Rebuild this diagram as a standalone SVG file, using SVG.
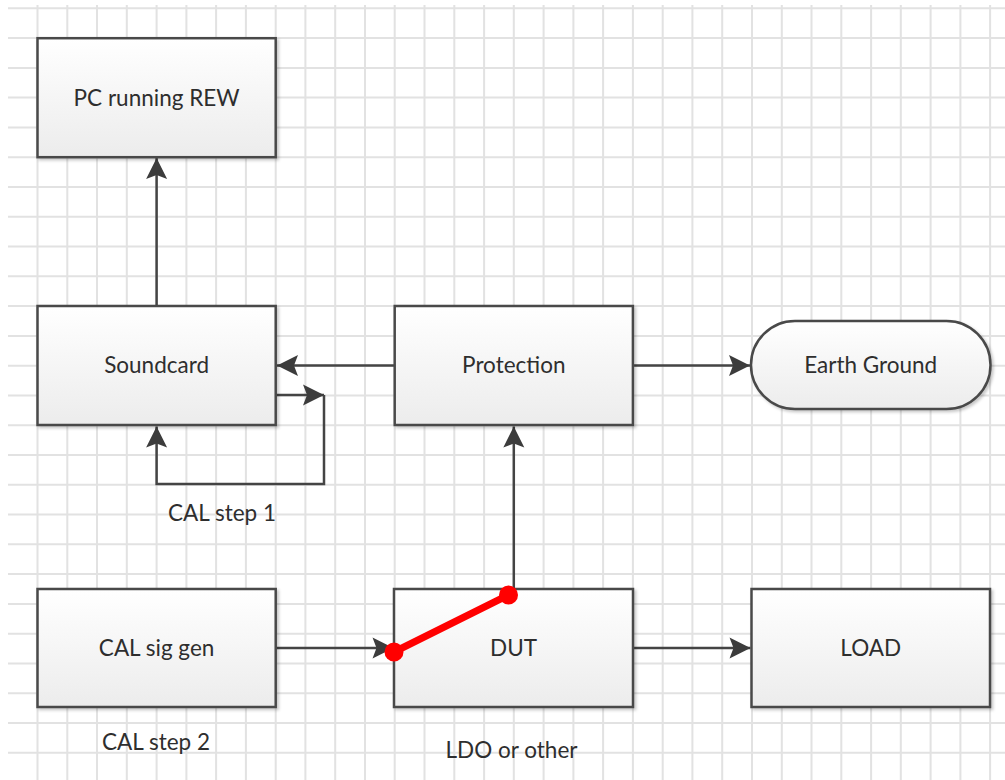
<svg xmlns="http://www.w3.org/2000/svg" width="1005" height="780" viewBox="0 0 1005 780">
  <defs>
    <linearGradient id="boxFill" x1="0" y1="0" x2="0" y2="1">
      <stop offset="0" stop-color="#ffffff"/>
      <stop offset="1" stop-color="#ececec"/>
    </linearGradient>
    <filter id="shadow" x="-5%" y="-5%" width="115%" height="120%">
      <feDropShadow dx="2" dy="2" stdDeviation="1.5" flood-color="#000" flood-opacity="0.22"/>
    </filter>
    <marker id="arrow" markerUnits="userSpaceOnUse" viewBox="-1 -12 23 24" markerWidth="23" markerHeight="24" refX="21" refY="0" orient="auto">
      <path d="M0,-10.5 L21,0 L0,10.5 L4,0 Z" fill="#3c3c3c"/>
    </marker>
    <style>
      .grid { stroke: #e2e2e2; stroke-width: 2; fill: none; }
      .box { fill: url(#boxFill); stroke: #4a4a4a; stroke-width: 2.5; filter: url(#shadow); }
      .conn { stroke: #444; stroke-width: 2.5; fill: none; }
      .arr { marker-end: url(#arrow); }
      .lbl { font-family: Lato, "Open Sans", "Liberation Sans", sans-serif; font-size: 22.5px; fill: #2e2e2e; text-anchor: middle; }
      .short { stroke: #ff0000; stroke-width: 7; stroke-linecap: round; fill: none; }
      .dot { fill: #ff0000; }
    </style>
  </defs>

  <rect width="1005" height="780" fill="#ffffff"/>

  <!-- background grid -->
  <g id="grid">
    <path class="grid" d="M37.5,5V780 M67.3,5V780 M97,5V780 M126.8,5V780 M156.6,5V780 M186.4,5V780 M216.1,5V780 M245.9,5V780 M275.7,5V780 M305.4,5V780 M335.2,5V780 M365,5V780 M394.7,5V780 M424.5,5V780 M454.3,5V780 M484.1,5V780 M513.8,5V780 M543.6,5V780 M573.4,5V780 M603.1,5V780 M632.9,5V780 M662.7,5V780 M692.4,5V780 M722.2,5V780 M752,5V780 M781.8,5V780 M811.5,5V780 M841.3,5V780 M871.1,5V780 M900.8,5V780 M930.6,5V780 M960.4,5V780 M990.1,5V780"/>
    <path class="grid" d="M8,8.3H1005 M8,38.1H1005 M8,67.9H1005 M8,97.6H1005 M8,127.4H1005 M8,157.2H1005 M8,187H1005 M8,216.8H1005 M8,246.5H1005 M8,276.3H1005 M8,306.1H1005 M8,335.9H1005 M8,365.7H1005 M8,395.4H1005 M8,425.2H1005 M8,455H1005 M8,484.8H1005 M8,514.6H1005 M8,544.3H1005 M8,574.1H1005 M8,603.9H1005 M8,633.7H1005 M8,663.5H1005 M8,693.2H1005 M8,723H1005 M8,752.8H1005"/>
  </g>

  <!-- connectors -->
  <g id="connectors">
    <path class="conn arr" d="M156.6,306 V158"/>
    <path class="conn arr" d="M394.7,365.5 H277"/>
    <path class="conn arr" d="M275.7,395 H324"/>
    <path class="conn arr" d="M324,395 V484 H156.6 V426.5"/>
    <path class="conn arr" d="M632.9,365.5 H750"/>
    <path class="conn arr" d="M513.8,589 V426.5"/>
    <path class="conn arr" d="M275.7,648 H393.5"/>
    <path class="conn arr" d="M633,648 H750.5"/>
  </g>

  <!-- nodes -->
  <g id="pc">
    <rect class="box" x="37.5" y="38.2" width="238.2" height="119"/>
    <text class="lbl" x="156.6" y="106">PC running REW</text>
  </g>
  <g id="soundcard">
    <rect class="box" x="37.5" y="306" width="238.2" height="119"/>
    <text class="lbl" x="156.6" y="373">Soundcard</text>
  </g>
  <g id="protection">
    <rect class="box" x="394.7" y="306" width="238.2" height="119"/>
    <text class="lbl" x="513.8" y="373">Protection</text>
  </g>
  <g id="earth-ground">
    <rect class="box" x="751" y="321" width="239.5" height="88" rx="44" ry="44"/>
    <text class="lbl" x="870.7" y="373">Earth Ground</text>
  </g>
  <g id="cal-sig-gen">
    <rect class="box" x="37.5" y="589" width="238.2" height="118"/>
    <text class="lbl" x="156.6" y="656">CAL sig gen</text>
  </g>
  <g id="dut">
    <rect class="box" x="394" y="589" width="239" height="118"/>
    <text class="lbl" x="513.5" y="656">DUT</text>
  </g>
  <g id="load">
    <rect class="box" x="751.5" y="589" width="238.5" height="118"/>
    <text class="lbl" x="870.7" y="656">LOAD</text>
  </g>

  <!-- free labels -->
  <g id="labels">
    <text class="lbl" x="222" y="521">CAL step 1</text>
    <text class="lbl" x="156" y="750">CAL step 2</text>
    <text class="lbl" x="511.5" y="758">LDO or other</text>
  </g>

  <!-- red shorting link across the DUT -->
  <g id="short-link">
    <line class="short" x1="394" y1="652" x2="508.5" y2="595"/>
    <circle class="dot" cx="394" cy="652" r="9.5"/>
    <circle class="dot" cx="508.5" cy="595" r="9.5"/>
  </g>
</svg>
